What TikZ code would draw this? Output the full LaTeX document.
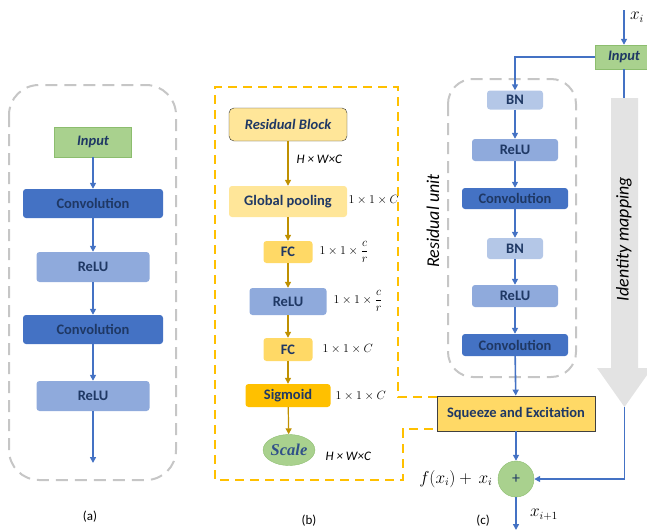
\documentclass[tikz,border=0pt]{standalone}
\usepackage{fontspec}
\setmainfont{Carlito}
\newfontfamily\scalefont{Liberation Serif}
\usetikzlibrary{arrows.meta,shapes.geometric}

\definecolor{convblue}{HTML}{4472C4}
\definecolor{relublue}{HTML}{8FAADC}
\definecolor{bnblue}{HTML}{B4C7E7}
\definecolor{ingreen}{HTML}{A9D18E}
\definecolor{ingreenline}{HTML}{8CBD6E}
\definecolor{paleyellow}{HTML}{FFE699}
\definecolor{fcyellow}{HTML}{FFD966}
\definecolor{sigyellow}{HTML}{FFC000}
\definecolor{goldline}{HTML}{BF9000}
\definecolor{textblue}{HTML}{1F3864}
\definecolor{dashgray}{HTML}{C6C6C6}
\definecolor{idgray}{HTML}{E3E3E3}

\tikzset{
  blk/.style={rectangle, rounded corners=3pt, inner sep=0pt, text=textblue,
    font=\bfseries\fontsize{14.5}{16}\selectfont},
  conv/.style={blk, fill=convblue, minimum width=140pt, minimum height=29pt},
  relu/.style={blk, fill=relublue, minimum width=113pt, minimum height=30pt},
  inbox/.style={blk, rounded corners=0pt, fill=ingreen, draw=ingreenline,
    font=\bfseries\itshape\fontsize{14.5}{16}\selectfont},
  yelbox/.style={blk, fill=paleyellow},
  dim/.style={anchor=west, font=\fontsize{12}{14}\selectfont},
  hwc/.style={anchor=west, font=\itshape\fontsize{13}{15}\selectfont},
  flow/.style={->, draw=convblue, line width=1.6pt},
  goldflow/.style={->, draw=goldline, line width=1.2pt},
  unitbox/.style={draw=dashgray, line width=2pt, dash pattern=on 12pt off 7pt},
  sebox/.style={draw=sigyellow, line width=1.8pt, dash pattern=on 9pt off 6pt},
  sidetext/.style={rotate=90, font=\itshape\fontsize{18}{20}\selectfont},
  mathlbl/.style={font=\fontsize{16}{18}\selectfont},
  captext/.style={font=\fontsize{13}{15}\selectfont}
}

\begin{document}
\begin{tikzpicture}[x=1pt, y=-1pt, >={Triangle[length=6pt,width=6pt]}]
\useasboundingbox (0,0) rectangle (647,530);
\clip (0,0) rectangle (647,530);

% (a) plain residual block
\draw[unitbox, rounded corners=30pt] (9,85) rectangle (176,480);
\node[inbox, minimum width=77pt, minimum height=30pt] (inA) at (93,142) {Input};
\node[conv] (convA1) at (93,203.5) {Convolution};
\node[relu] (reluA1) at (93,267) {ReLU};
\node[conv] (convA2) at (93,329.5) {Convolution};
\node[relu] (reluA2) at (93,396) {ReLU};
\coordinate (outA) at (93,463);
\draw[flow] (inA) -- (convA1);
\draw[flow] (convA1) -- (reluA1);
\draw[flow] (reluA1) -- (convA2);
\draw[flow] (convA2) -- (reluA2);
\draw[flow] (reluA2) -- (outA);
\node[captext] (capA) at (90,517) {(a)};

% (b) squeeze and excitation
\node[yelbox, draw=black!80, rounded corners=5pt, minimum width=118pt, minimum height=33pt,
  font=\bfseries\itshape\fontsize{14.5}{16}\selectfont] (resB) at (288,124.5) {Residual Block};
\node[yelbox, minimum width=118pt, minimum height=31pt] (gpB) at (288,201.5) {Global pooling};
\node[blk, fill=fcyellow, minimum width=49pt, minimum height=22pt] (fcB1) at (288,252) {FC};
\node[blk, fill=relublue, minimum width=77pt, minimum height=27pt] (reluB) at (288,301.5) {ReLU};
\node[blk, fill=fcyellow, minimum width=49pt, minimum height=23pt] (fcB2) at (288,349.5) {FC};
\node[blk, fill=sigyellow, minimum width=85pt, minimum height=23pt] (sigB) at (288,395.5) {Sigmoid};
\node[ellipse, fill=ingreen, draw=ingreenline, inner sep=0pt, minimum width=47pt, minimum height=31pt,
  text=convblue!70!black, font=\scalefont\bfseries\itshape\fontsize{16.5}{18}\selectfont] (scaleB) at (289,450) {Scale};
\foreach \a/\b in {resB/gpB, gpB/fcB1, fcB1/reluB, reluB/fcB2, fcB2/sigB, sigB/scaleB}
  \draw[goldflow] (\a) -- (\b);
\node[hwc] at (293,159) {H × W×C};
\node[dim] at (345,200) {$1\times1\times C$};
\node[dim] at (316,252) {$1\times1\times{\displaystyle\frac{c}{r}}$};
\node[dim] at (330,301) {$1\times1\times{\displaystyle\frac{c}{r}}$};
\node[dim] at (319,349) {$1\times1\times C$};
\node[dim] at (332,396) {$1\times1\times C$};
\node[hwc] at (322,456) {H × W×C};
\node[captext] (capB) at (309,521) {(b)};

% (c) residual unit with SE
\draw[unitbox, rounded corners=25pt] (448,79) rectangle (576,377);
\node[inbox, minimum width=58pt, minimum height=24pt] (inC) at (624,57) {Input};
\node[blk, fill=bnblue, minimum width=56pt, minimum height=19pt] (bnC1) at (515,100) {BN};
\node[blk, fill=relublue, minimum width=86pt, minimum height=22pt] (reluC1) at (515,150) {ReLU};
\node[blk, fill=convblue, minimum width=106pt, minimum height=21pt] (convC1) at (515,198.5) {Convolution};
\node[blk, fill=bnblue, minimum width=56pt, minimum height=21pt] (bnC2) at (515,248.5) {BN};
\node[blk, fill=relublue, minimum width=86pt, minimum height=22pt] (reluC2) at (515,296) {ReLU};
\node[blk, fill=convblue, minimum width=106pt, minimum height=22pt] (convC2) at (515,345) {Convolution};
\node[blk, rounded corners=0pt, fill=fcyellow, draw=black!75, line width=0.8pt,
  minimum width=158pt, minimum height=35pt] (seC) at (516,413.5) {Squeeze and Excitation};
\node[circle, fill=ingreen, draw=ingreenline, minimum size=36pt, inner sep=0pt,
  text=textblue, font=\fontsize{16}{16}\selectfont] (plusC) at (516,479) {+};
\coordinate (topC) at (624,10);
\coordinate (botC) at (516,530);
\coordinate (idTip) at (624.5,407);
\draw[flow] (topC) -- (inC);
\draw[flow] (inC.west) -| (bnC1.north);
\draw[flow] (bnC1) -- (reluC1);
\draw[flow] (reluC1) -- (convC1);
\draw[flow] (convC1) -- (bnC2);
\draw[flow] (bnC2) -- (reluC2);
\draw[flow] (reluC2) -- (convC2);
\draw[flow] (convC2) -- (seC);
\draw[flow] (seC) -- (plusC);
\draw[flow] (plusC) -- (botC);
% identity mapping
\draw[draw=convblue, line width=1.6pt] (inC.south) -- (624,98);
\fill[idgray] (611,98) -- (638,98) -- (638,368) -- (652,368) -- (idTip) -- (597,368) -- (611,368) -- cycle;
\node[sidetext] (idText) at (624,239) {Identity mapping};
\draw[flow] (idTip) |- (plusC.east);
\node[sidetext] (unitText) at (433,221) {Residual unit};
% link between (b) and the SE block
\draw[sebox] (seC.west |- 0,397) -- (398,397) -- (398,87) -- (215,87) -- (215,480) -- (403,480)
  -- (403,429) -- (seC.west |- 0,429);
\node[anchor=east, mathlbl] (sumC) at (496,479) {$f(x_i)+\,x_i$};
\node[mathlbl] (outC) at (544,515) {$x_{i+1}$};
\node[mathlbl] (xiC) at (637,17) {$x_i$};
\node[captext] (capC) at (483,521) {(c)};
\end{tikzpicture}
\end{document}
